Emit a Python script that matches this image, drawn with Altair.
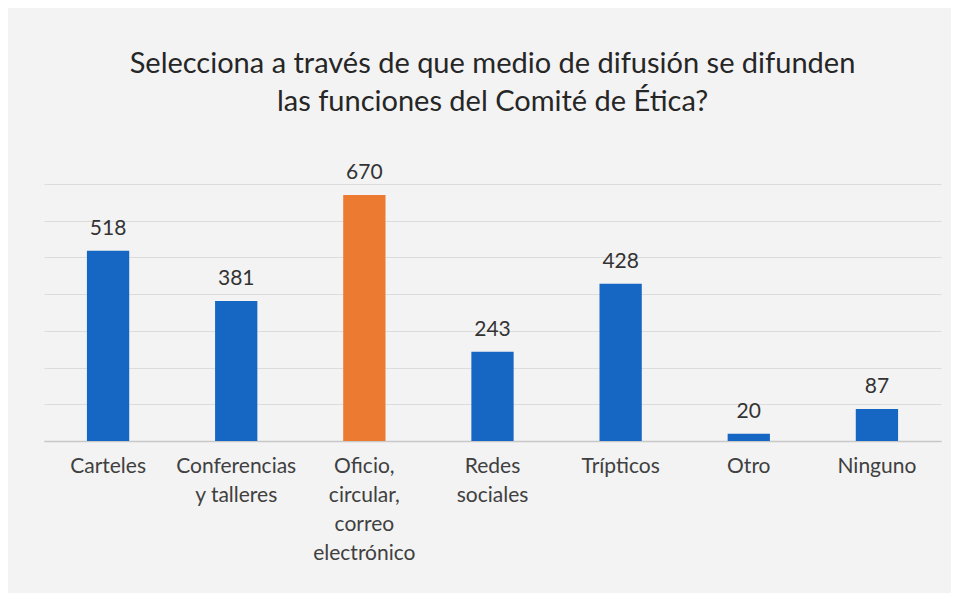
import altair as alt
import pandas as pd

categories = ["Carteles", "Conferencias|y talleres", "Oficio,|circular,|correo|electrónico",
              "Redes|sociales", "Trípticos", "Otro", "Ninguno"]
values = [518, 381, 670, 243, 428, 20, 87]
highlight = ["no", "no", "yes", "no", "no", "no", "no"]
grid_values = [0, 100, 200, 300, 400, 500, 600, 700]

df = pd.DataFrame({"cat": categories, "val": values, "hl": highlight})

FONT = "Lato"

x = alt.X("cat:N", sort=categories, title=None,
          scale=alt.Scale(paddingInner=0.67, paddingOuter=0.335),
          axis=alt.Axis(labelExpr="split(datum.label, '|')", labelAngle=0,
                        labelFontSize=21, labelColor="#404040", labelFont=FONT,
                        labelLineHeight=29, labelPadding=14, ticks=False,
                        domainColor="#c8c8c8", domainWidth=1.5, labelBaseline="top"))
y = alt.Y("val:Q", title=None, scale=alt.Scale(domain=[0, 700]),
          axis=alt.Axis(labels=False, ticks=False, domain=False, grid=True,
                        gridColor="#dcdcdc", gridWidth=1.2, values=grid_values))

bars = alt.Chart(df).mark_bar().encode(
    x=x, y=y,
    color=alt.Color("hl:N", scale=alt.Scale(domain=["no", "yes"], range=["#1667c4", "#ec7a30"]), legend=None),
)
text = alt.Chart(df).mark_text(baseline="bottom", dy=-12, fontSize=21, font=FONT, color="#333333").encode(
    x=x, y=y, text="val:Q")

chart = (bars + text).properties(
    width=897, height=257,
    title=alt.TitleParams(["Selecciona a través de que medio de difusión se difunden",
                           "las funciones del Comité de Ética?"],
                          fontSize=29, font=FONT, fontWeight="normal", color="#262626",
                          lineHeight=38, anchor="middle", offset=45),
    padding={"top": 42, "left": 36, "right": 10, "bottom": 30},
    background="#f3f3f3",
).configure_view(stroke=None)

chart.save("out.html", embed_options={"renderer": "svg", "actions": False})
